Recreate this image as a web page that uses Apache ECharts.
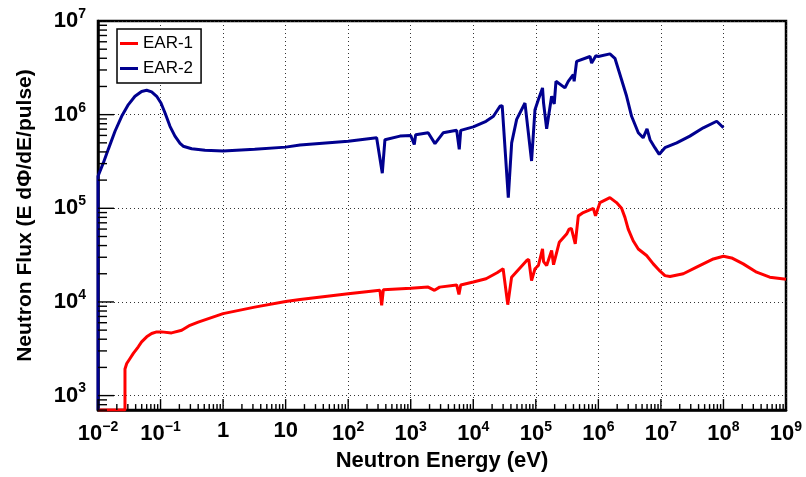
<!DOCTYPE html>
<html>
<head>
<meta charset="utf-8">
<script src="https://cdn.jsdelivr.net/npm/echarts@6/dist/echarts.min.js"></script>
<style>
html,body{margin:0;padding:0;background:#fff;}
#chart{width:806px;height:477px;}
</style>
</head>
<body>
<div id="chart"></div>
<script>
// ---- data ----
var xMin = 0.01, xMax = 1e9;
var yMin = 700, yMax = 1e7;

var ear2E = [0.01, 0.01, 0.0122, 0.0146, 0.0187, 0.0239, 0.0306, 0.039, 0.0498, 0.06, 0.072, 0.0867, 0.1016, 0.118, 0.1416, 0.17, 0.205, 0.23, 0.315, 0.514, 1, 3.2, 10, 17, 100, 285, 351, 387, 673, 1000, 1140, 1200, 1900, 2440, 3300, 5430, 5970, 6300, 10000, 16000, 21000, 26700, 29000, 36300, 41100, 49400, 67100, 72000, 85500, 97000, 110000, 128000, 133000, 149000, 179000, 192000, 197000, 210000, 292000, 330000, 397000, 410000, 449000, 735000, 780000, 912000, 1000000, 1530000, 1840000, 2350000, 2830000, 3400000, 4350000, 5200000, 6000000, 6700000, 8000000, 9400000, 11600000, 17900000, 29000000, 47600000, 78000000, 100000000];
var ear2F = [700, 2.2e5, 3.07e5, 4.26e5, 6.65e5, 9.6e5, 1.28e6, 1.57e6, 1.77e6, 1.82e6, 1.75e6, 1.57e6, 1.33e6, 1.04e6, 7.5e5, 5.9e5, 4.93e5, 4.6e5, 4.33e5, 4.17e5, 4.08e5, 4.26e5, 4.5e5, 4.73e5, 5.2e5, 5.66e5, 2.37e5, 5.4e5, 5.9e5, 6.0e5, 4.8e5, 6.1e5, 6.4e5, 4.9e5, 6.4e5, 6.8e5, 4.26e5, 6.8e5, 7.4e5, 8.5e5, 9.6e5, 1.23e6, 1.25e6, 1.3e5, 5.0e5, 8.9e5, 1.33e6, 1.36e6, 3.2e5, 1.13e6, 1.45e6, 1.93e6, 1.33e6, 7.06e5, 1.57e6, 1.6e6, 1.3e6, 2.27e6, 1.93e6, 2.27e6, 2.67e6, 2.27e6, 3.7e6, 4.18e6, 3.55e6, 4.25e6, 4.18e6, 4.46e6, 4.0e6, 2.36e6, 1.57e6, 9.6e5, 6.4e5, 5.66e5, 7.06e5, 5.4e5, 4.44e5, 3.77e5, 4.44e5, 5.0e5, 5.9e5, 7.24e5, 8.5e5, 7.24e5];

var ear1E = [0.01, 0.027, 0.027, 0.0288, 0.0325, 0.0367, 0.0441, 0.0498, 0.06, 0.072, 0.0867, 0.104, 0.15, 0.218, 0.295, 0.4, 1, 3.2, 10, 17, 100, 322, 343, 365, 1000, 1900, 2400, 2900, 5430, 5900, 6300, 10000, 16000, 24000, 30000, 35600, 41000, 71000, 77000, 85500, 97000, 110000, 128000, 133000, 149000, 179000, 188000, 192000, 237000, 311000, 340000, 370000, 427000, 478000, 574000, 830000, 900000, 1060000, 1530000, 1950000, 2350000, 2660000, 3000000, 3600000, 4350000, 5900000, 7550000, 9700000, 11600000, 14000000, 22800000, 37200000, 69000000, 100000000, 135000000, 207000000, 339000000, 550000000, 1000000000];
var ear1F = [700, 700, 1920, 2200, 2490, 2820, 3320, 3750, 4240, 4600, 4790, 4790, 4670, 4980, 5630, 6100, 7500, 8800, 10100, 10600, 12200, 13300, 9200, 13500, 14000, 14400, 13300, 14400, 15200, 12000, 15200, 16300, 17700, 20500, 22600, 9350, 18400, 27600, 28500, 16900, 22600, 24500, 36800, 27000, 24500, 35400, 34000, 25000, 43300, 53000, 60000, 61000, 41700, 83000, 90000, 100000, 83000, 115000, 130000, 115000, 100000, 80000, 60000, 45000, 36800, 31300, 25500, 21300, 19100, 18700, 20000, 23500, 28800, 30700, 29500, 25500, 20800, 18400, 17500];

var seriesNames = ['EAR-1', 'EAR-2'];
var seriesColors = ['#ff0000', '#00008f'];

// ---- build ----
function pairs(a, b) { var r = []; for (var i = 0; i < a.length; i++) r.push([a[i], b[i]]); return r; }

var xTicks = [];
for (var n = -2; n <= 8; n++) {
  for (var k = 1; k <= 9; k++) xTicks.push([k * Math.pow(10, n), k === 1 ? 1 : 0]);
}
xTicks.push([1e9, 1]);
var yTicks = [];
for (var n2 = 2; n2 <= 6; n2++) {
  for (var k2 = 1; k2 <= 9; k2++) {
    var v = k2 * Math.pow(10, n2);
    if (v >= yMin) yTicks.push([v, k2 === 1 ? 1 : 0]);
  }
}
yTicks.push([1e7, 1]);

var FONT = 'Liberation Sans, Arial, sans-serif';

function supLabel(isX) {
  return function (val) {
    var lg = Math.log(val) / Math.LN10;
    var n = Math.round(lg);
    if (Math.abs(lg - n) > 1e-6) return '';
    if (isX && n === 0) return '{b|1}';
    if (isX && n === 1) return '{b|10}';
    return '{b|10}{s|' + (n < 0 ? '\u2212' + (-n) : n) + '}';
  };
}
var rich = {
  b: { fontFamily: FONT, fontWeight: 'bold', fontSize: 22, color: '#000' },
  s: { fontFamily: FONT, fontWeight: 'bold', fontSize: 14, color: '#000', padding: [0, 0, 14, 0] }
};

var chart = echarts.init(document.getElementById('chart'));
var option = {
  animation: false,
  backgroundColor: '#fff',
  grid: { left: 98, right: 20, top: 21, bottom: 66, show: true, borderColor: '#000', borderWidth: 2.5, backgroundColor: 'transparent' },
  legend: {
    data: seriesNames,
    orient: 'vertical',
    left: 117, top: 29,
    borderColor: '#000', borderWidth: 1.5, borderRadius: 0,
    backgroundColor: '#fff',
    padding: [6, 8, 6, 3],
    itemGap: 8,
    itemWidth: 18, itemHeight: 3,
    icon: 'rect',
    textStyle: { fontFamily: FONT, fontSize: 17, color: '#000' }
  },
  xAxis: {
    type: 'log', logBase: 10, min: xMin, max: xMax, interval: 1,
    name: 'Neutron Energy (eV)', nameLocation: 'middle', nameGap: 36,
    nameTextStyle: { fontFamily: FONT, fontWeight: 'bold', fontSize: 22, color: '#000' },
    axisLine: { show: true, lineStyle: { color: '#000', width: 2.5 } },
    axisTick: { show: false },
    axisLabel: { formatter: supLabel(true), rich: rich, margin: 10, showMinLabel: true, showMaxLabel: true },
    splitLine: { show: true, lineStyle: { color: '#333', width: 1, type: [1, 3] } },
    minorTick: { show: false }
  },
  yAxis: {
    type: 'log', logBase: 10, min: yMin, max: yMax,
    name: 'Neutron Flux (E d\u03a6/dE/pulse)', nameLocation: 'middle', nameGap: 62,
    nameTextStyle: { fontFamily: FONT, fontWeight: 'bold', fontSize: 21, color: '#000' },
    axisLine: { show: true, lineStyle: { color: '#000', width: 2.5 } },
    axisTick: { show: false },
    axisLabel: { formatter: supLabel(false), rich: rich, margin: 12 },
    splitLine: { show: true, lineStyle: { color: '#333', width: 1, type: [1, 3] } }
  },
  series: [
    {
      name: seriesNames[0], type: 'line', data: pairs(ear1E, ear1F), showSymbol: false, symbol: 'none',
      lineStyle: { color: seriesColors[0], width: 3 }, itemStyle: { color: seriesColors[0] }, z: 3, clip: true
    },
    {
      name: seriesNames[1], type: 'line', data: pairs(ear2E, ear2F), showSymbol: false, symbol: 'none',
      lineStyle: { color: seriesColors[1], width: 3 }, itemStyle: { color: seriesColors[1] }, z: 3, clip: true
    },
    {
      type: 'custom', silent: true, data: xTicks, z: 4, clip: false,
      renderItem: function (params, api) {
        var p = api.coord([api.value(0), yMin]);
        var len = api.value(1) ? 11 : 6;
        return { type: 'line', shape: { x1: p[0], y1: p[1], x2: p[0], y2: p[1] - len }, style: { stroke: '#000', lineWidth: 1.4 } };
      }
    },
    {
      type: 'custom', silent: true, data: yTicks, z: 4, clip: false,
      encode: { x: 1, y: 0 },
      renderItem: function (params, api) {
        var p = api.coord([xMin, api.value(0)]);
        var len = api.value(1) ? 16 : 9;
        return { type: 'line', shape: { x1: p[0], y1: p[1], x2: p[0] + len, y2: p[1] }, style: { stroke: '#000', lineWidth: 1.4 } };
      }
    }
  ]
};
chart.setOption(option);
</script>
</body>
</html>
